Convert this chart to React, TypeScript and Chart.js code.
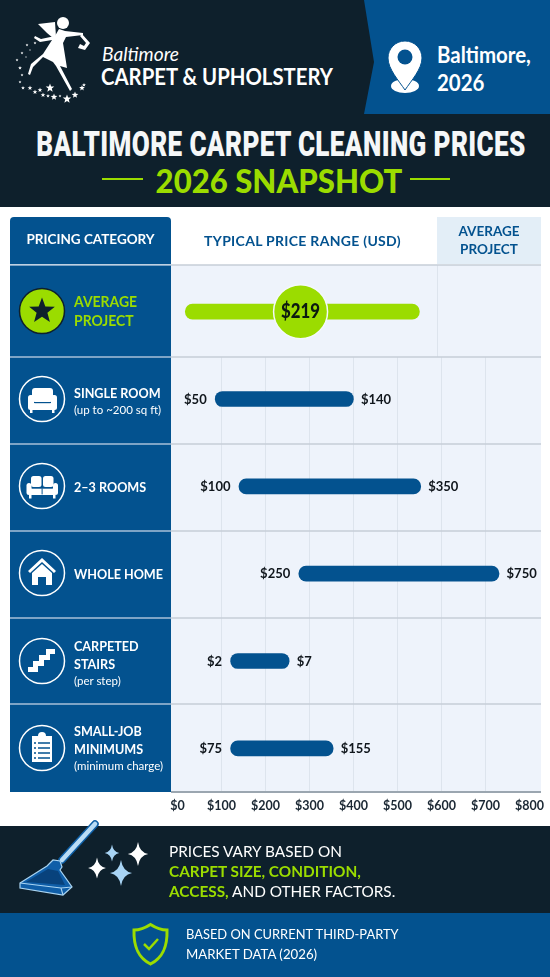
import React, { useEffect, useRef } from "react";
import Chart from "chart.js/auto";

// bar ends as they sit against the axis in the picture (printed amounts are separate below)
const categories = ["Average Project", "Single Room", "2–3 Rooms", "Whole Home", "Carpeted Stairs", "Small-Job Minimums"];
const rangeLow = [18, 86, 140, 276, 121, 121];
const rangeHigh = [550, 400, 553, 731, 254, 354];
const lowLabels = ["", "$50", "$100", "$250", "$2", "$75"];
const highLabels = ["", "$140", "$350", "$750", "$7", "$155"];
const averageLabel = "$219";
const averagePosition = 280;
const tickValues = [0, 100, 200, 300, 400, 500, 600, 700, 800];

const rowTitles = [["AVERAGE", "PROJECT"], ["SINGLE ROOM"], ["2–3 ROOMS"], ["WHOLE HOME"], ["CARPETED", "STAIRS"], ["SMALL-JOB", "MINIMUMS"]];
const rowNotes = ["", "(up to ~200 sq ft)", "", "", "(per step)", "(minimum charge)"];

const DARK = "#0e202c";
const BLUE = "#03528f";
const GREEN = "#9bdc00";
const PANEL = "#eef3fb";
const FONT = "Lato, sans-serif";

const rowEdges = [265, 357, 444, 531, 618, 704, 792];
const rowCenters = [311, 399, 486, 573, 661, 748];
const rowTextTops = [301.5, 392.5, 486.5, 573.5, 645.5, 730.5];

const tablePlugin = {
  id: "table",
  afterLayout(chart: any) {
    // the last tick label reserves room on the right, the table runs to 541 anyway
    const s = chart.scales.x;
    s.right = 541;
    s.width = 370;
    s.configure();
    chart.chartArea.right = 541;
    chart.chartArea.width = 370;
  },
  beforeDraw(chart: any) {
    const c = chart.ctx;
    c.save();
    c.fillStyle = "#e3eef7";
    c.fillRect(437, 217, 104, 47);
    c.fillStyle = PANEL;
    c.fillRect(171, 265, 370, 527);
    c.restore();
  },
  beforeDatasetsDraw(chart: any) {
    const c = chart.ctx;
    c.save();
    // the average row has no price grid, only the column edge
    c.fillStyle = PANEL;
    c.fillRect(171, 265, 370, 92);
    c.strokeStyle = "#dde4ed";
    c.lineWidth = 1;
    c.beginPath();
    c.moveTo(437.5, 265);
    c.lineTo(437.5, 357);
    c.stroke();
    rowEdges.forEach((y, i) => {
      c.strokeStyle = i === rowEdges.length - 1 ? "#9ba6b0" : "#c6ced7";
      c.lineWidth = i === rowEdges.length - 1 ? 2 : 1.5;
      c.beginPath();
      c.moveTo(171, y);
      c.lineTo(541, y);
      c.stroke();
    });
    c.restore();
  },
  afterDatasetsDraw(chart: any) {
    const c = chart.ctx;
    const bars = chart.getDatasetMeta(1).data;
    const label = (text: string, x: number, y: number, align: string) => {
      c.save();
      c.translate(x, y);
      c.scale(0.93, 1);
      c.textAlign = align;
      c.fillText(text, 0, 0);
      c.restore();
    };
    c.save();
    c.fillStyle = "#10161c";
    c.font = `700 14px ${FONT}`;
    c.textBaseline = "middle";
    bars.forEach((bar: any, i: number) => {
      label(lowLabels[i], bar.base - 8.5, bar.y, "right");
      label(highLabels[i], bar.x + 7.5, bar.y, "left");
    });
    const pt = chart.getDatasetMeta(0).data[0];
    c.translate(pt.x, pt.y);
    c.scale(0.8, 1);
    c.textAlign = "center";
    c.font = `900 21px ${FONT}`;
    c.fillStyle = "#0c1a10";
    c.fillText(averageLabel, 0, 0);
    c.restore();
  },
};

function T(props: { x: number; y: number; size: number; color?: string; weight?: number; center?: boolean; italic?: boolean; sx?: number; ls?: number; font?: string; children: React.ReactNode }) {
  const { x, y, size, color = "#fff", weight = 700, center, italic, sx = 1, ls = 0, font = FONT } = props;
  return (
    <div
      style={{
        position: "absolute",
        left: x,
        top: y - size / 2,
        lineHeight: `${size}px`,
        fontFamily: font,
        fontSize: size,
        fontWeight: weight,
        fontStyle: italic ? "italic" : "normal",
        letterSpacing: ls,
        color,
        whiteSpace: "pre",
        transform: `${center ? "translateX(-50%) " : ""}scaleX(${sx})`,
        transformOrigin: center ? "center" : "left",
      }}
    >
      {props.children}
    </div>
  );
}

function sparkle(cx: number, cy: number, r: number) {
  const k = r * 0.13;
  return `M${cx} ${cy - r}Q${cx + k} ${cy - k} ${cx + r * 0.85} ${cy}Q${cx + k} ${cy + k} ${cx} ${cy + r}Q${cx - k} ${cy + k} ${cx - r * 0.85} ${cy}Q${cx - k} ${cy - k} ${cx} ${cy - r}Z`;
}

function star(cx: number, cy: number, r: number) {
  const pts: string[] = [];
  for (let i = 0; i < 10; i++) {
    const a = -Math.PI / 2 + (i * Math.PI) / 5;
    const d = i % 2 ? r * 0.42 : r;
    pts.push(`${cx + d * Math.cos(a)},${cy + d * Math.sin(a)}`);
  }
  return pts.join(" ");
}

const logoStars = [[35, 43, 1.5], [27, 45, 1.5], [30, 50, 1], [22, 53, 1.5], [26, 57, 1], [17, 60, 1.5], [20, 68, 2], [22, 75, 1.5], [20, 82, 1.5], [23, 88, 2], [30, 88, 2.5], [35, 92, 2.5], [40, 90, 2.5], [43, 95, 2.5], [50, 88, 4.5], [48, 96, 2], [54, 97, 3.5], [60, 96, 1.5], [67, 99, 4.5], [75, 95, 3.5], [82, 88, 3], [84, 85, 2]];

function Icon({ i, y }: { i: number; y: number }) {
  const white = "#fff";
  return (
    <g transform={`translate(42 ${y})`}>
      {i === 0 ? (
        <>
          <circle r="22.5" fill={GREEN} stroke="#0e202c" strokeWidth="1.5" />
          <polygon points={star(0, 0, 13.5)} fill="#0e202c" />
        </>
      ) : (
        <circle r="22.5" fill="none" stroke={white} strokeWidth="1.5" />
      )}
      {i === 1 && (
        <g fill={white}>
          <rect x="-10" y="-11" width="21" height="14" rx="3" />
          <rect x="-14" y="-4" width="6" height="15" rx="2.5" />
          <rect x="9" y="-4" width="6" height="15" rx="2.5" />
          <rect x="-12" y="4" width="25" height="7" />
          <rect x="-12" y="10" width="2.5" height="4" />
          <rect x="10" y="10" width="2.5" height="4" />
          <rect x="-7.5" y="3" width="16" height="1.2" fill={BLUE} />
        </g>
      )}
      {i === 2 && (
        <g fill={white}>
          <rect x="-11" y="-10" width="10.5" height="11" rx="2.5" />
          <rect x="1" y="-10" width="10.5" height="11" rx="2.5" />
          <rect x="-15.500" y="-3" width="5" height="12" rx="2.5" />
          <rect x="11" y="-3" width="5" height="12" rx="2.5" />
          <rect x="-13" y="2.500" width="26" height="6.500" />
          <rect x="-13" y="9" width="2.5" height="3.500" />
          <rect x="11" y="9" width="2.5" height="3.500" />
          <rect x="-10" y="1.200" width="20.500" height="1.200" fill={BLUE} />
          <rect x="-0.400" y="2.400" width="1" height="6" fill={BLUE} />
        </g>
      )}
      {i === 3 && <path fill={white} d="M0 -15L14 -2l-2 2L0 -11L-12 0l-2-2zM-10 0L0 -9L10 0v12h-6v-8h-8v8h-6z" />}
      {i === 4 && <path fill={white} d="M4 -12h9v5h-5v6h-6v6h-6v6h-10v-5h5v-6h6v-6h7z" />}
      {i === 5 && (
        <>
          <path fill={white} d="M-10 -12h6a4 4 0 0 1 8 0h6v26h-20z" />
          <path stroke={BLUE} strokeWidth="1.6" d="M-4 -5h12M-4 0h12M-4 5h12M-4 10h12M-8 -5h2M-8 0h2M-8 5h2M-8 10h2" />
        </>
      )}
    </g>
  );
}

export default function App(): JSX.Element {
  const chartRef = useRef<HTMLCanvasElement | null>(null);

  useEffect(() => {
    if (!chartRef.current) return;
    const chart = new Chart(chartRef.current, {
      data: {
        labels: categories,
        datasets: [
          {
            type: "scatter",
            data: [{ x: averagePosition, y: categories[0] }],
            pointRadius: 27,
            pointBackgroundColor: GREEN,
            pointBorderColor: "#f4f8fb",
            pointBorderWidth: 1.5,
            order: 0,
          },
          {
            type: "bar",
            indexAxis: "y",
            data: categories.map((_, i) => [rangeLow[i], rangeHigh[i]]),
            backgroundColor: categories.map((_, i) => (i === 0 ? GREEN : BLUE)),
            barThickness: 15,
            borderRadius: 8,
            borderSkipped: false,
            order: 1,
          },
        ] as any,
      },
      options: {
        animation: false,
        responsive: false,
        layout: { padding: { left: 171, top: 268, right: 9, bottom: 160 } },
        plugins: { legend: { display: false }, tooltip: { enabled: false } },
        scales: {
          x: {
            type: "linear",
            min: -14.5,
            max: 826.4,
            afterBuildTicks: (s: any) => {
              s.ticks = tickValues.map((value) => ({ value }));
            },
            afterFit: (s: any) => {
              s.height = 25;
            },
            border: { display: false },
            grid: {
              drawTicks: false,
              lineWidth: 1,
              color: (ctx: any) => (ctx.tick && ctx.tick.value >= 100 && ctx.tick.value <= 700 ? "#dde4ed" : "transparent"),
            },
            ticks: {
              autoSkip: false,
              maxRotation: 0,
              padding: 6,
              color: "#1a2733",
              font: { family: "Lato", size: 12.5, weight: 700 },
              callback: (v: any) => `$${v}`,
            },
          },
          y: { type: "category", offset: true, display: false },
        },
      } as any,
      plugins: [tablePlugin],
    } as any);
    return () => chart.destroy();
  }, []);

  return (
    <div style={{ position: "absolute", left: 0, top: 0, width: 550, height: 977, overflow: "hidden", background: "#fff" }}>
      <canvas ref={chartRef} width={550} height={977} style={{ position: "absolute", left: 0, top: 0, width: 550, height: 977 }} />

      <svg width="550" height="977" style={{ position: "absolute", left: 0, top: 0 }}>
        {/* top band */}
        <rect width="550" height="207" fill={DARK} />
        <polygon points="364,0 550,0 550,114 364,114 374,62" fill={BLUE} />
        {/* pin */}
        <ellipse cx="405" cy="86" rx="14" ry="7" fill="#fff" />
        <path d="M405 41c-10 0 -17 8 -17 17c0 11 11 23 17 32c6 -9 17 -21 17 -32c0 -9 -7 -17 -17 -17z" fill="#fff" stroke={BLUE} strokeWidth="1" />
        <circle cx="405" cy="57" r="7.5" fill={BLUE} />
        {/* fairy logo */}
        <g fill="#fff">
          <circle cx="63" cy="23" r="6" />
          <path d="M38 24L55 22L56 37L53 38L47 33z" />
          <path d="M59 29L65 31L83 33L83 35L66 37L63 43L67 68L60 66L72 89L70 91L56 66L53 62L43 57L33 67L30 75L28 74L31 64L43 54L52 40L40 42L34 38L35 36L41 39L55 36z" />
          <path d="M82 34L90 43L85 50L78 48L80 44L84 46L86 43L80 36z" />
          {logoStars.map((s, i) => (
            <polygon key={i} points={star(s[0], s[1], s[2])} />
          ))}
        </g>
        <line x1="102" y1="179" x2="143" y2="179" stroke={GREEN} strokeWidth="2" />
        <line x1="410" y1="179" x2="450" y2="179" stroke={GREEN} strokeWidth="2" />

        {/* table left column */}
        <path d="M10 264v-43a4 4 0 0 1 4-4h153a4 4 0 0 1 4 4v43z" fill={BLUE} />
        <rect x="10" y="265" width="161" height="527" fill={BLUE} />
        {rowEdges.slice(0, 6).map((y) => (
          <line key={y} x1="10" x2="171" y1={y} y2={y} stroke="#a9c1d8" strokeWidth="1.5" />
        ))}
        {rowCenters.map((y, i) => (
          <Icon key={i} i={i} y={y} />
        ))}

        {/* footer bands */}
        <rect y="826" width="550" height="87" fill={DARK} />
        <rect y="913" width="550" height="64" fill={BLUE} />
        <g>
          <line x1="95" y1="824" x2="62" y2="860" stroke="#0d5ea5" strokeWidth="7.5" strokeLinecap="round" />
          <line x1="95" y1="824" x2="62" y2="860" stroke="#b9dcf5" strokeWidth="4.5" strokeLinecap="round" />
          <path d="M20 883L47 866L53 860L60 861L62 867L60 870L72 887L63 895L20 888z" fill="#0f5ea8" stroke="#a9d4f2" strokeWidth="1.2" />
          <path d="M20 883L61 888L72 887M61 888L63 895" fill="none" stroke="#a9d4f2" strokeWidth="1.1" />
          <path d="M26 882L48 869L58 871L65 885z" fill="#08427c" />
        </g>
        <path d={sparkle(138, 854, 12)} fill="#fff" />
        <path d={sparkle(112, 853, 8.500)} fill="#a8d4f5" />
        <path d={sparkle(97, 868, 10.500)} fill="#fff" />
        <path d={sparkle(121, 873, 13)} fill="#a8d4f5" />
        {/* shield */}
        <path d="M150.500 924.500C156 928 161 930 167 930C167.500 945 164 957 150.500 964C137 957 133.500 945 134 930C140 930 145 928 150.500 924.500z" fill="none" stroke={GREEN} strokeWidth="3" />
        <path d="M144 944l5 5l9 -10" fill="none" stroke={GREEN} strokeWidth="2.500" />
      </svg>

      <T x={102} y={53} size={20} weight={400} italic sx={0.96}>Baltimore</T>
      <T x={101} y={77} size={22} sx={0.924}>CARPET &amp; UPHOLSTERY</T>
      <T x={437} y={55} size={22} sx={0.93}>Baltimore,</T>
      <T x={437} y={83} size={22} sx={0.93}>2026</T>
      <T x={281} y={144} size={35} weight={900} center sx={0.745} font="Roboto" color="#f5f7f8" ls={0.5}>BALTIMORE CARPET CLEANING PRICES</T>
      <T x={278.500} y={180} size={33} weight={900} center sx={0.943} color={GREEN}>2026 SNAPSHOT</T>

      <T x={90.500} y={240} size={13.500} center>PRICING CATEGORY</T>
      <T x={302.500} y={241} size={14} center color={BLUE} ls={0.3}>TYPICAL PRICE RANGE (USD)</T>
      <T x={489} y={232} size={13.500} center color={BLUE}>AVERAGE</T>
      <T x={489} y={250} size={13.500} center color={BLUE}>PROJECT</T>

      {rowTitles.map((lines, i) => (
        <React.Fragment key={i}>
          {lines.map((line, k) => (
            <T key={k} x={74} y={rowTextTops[i] + k * (i === 0 ? 19 : 18)} size={i === 0 ? 15.500 : 14} sx={0.9} color={i === 0 ? GREEN : "#fff"}>{line}</T>
          ))}
          {rowNotes[i] && <T x={74} y={rowTextTops[i] + lines.length * 18 - 1} size={11.500} weight={400}>{rowNotes[i]}</T>}
        </React.Fragment>
      ))}

      <T x={169} y={852} size={15.500} weight={400} sx={0.99}>PRICES VARY BASED ON</T>
      <T x={169} y={872} size={15.500} color={GREEN} sx={0.99}>CARPET SIZE, CONDITION,</T>
      <T x={169} y={892} size={15.500} weight={400} sx={0.99}><span style={{ color: GREEN, fontWeight: 700 }}>ACCESS,</span> AND OTHER FACTORS.</T>
      <T x={185.500} y={935} size={13.500} weight={400} sx={0.955}>BASED ON CURRENT THIRD-PARTY</T>
      <T x={185.500} y={955} size={13.500} weight={400} sx={0.98}>MARKET DATA (2026)</T>
    </div>
  );
}
